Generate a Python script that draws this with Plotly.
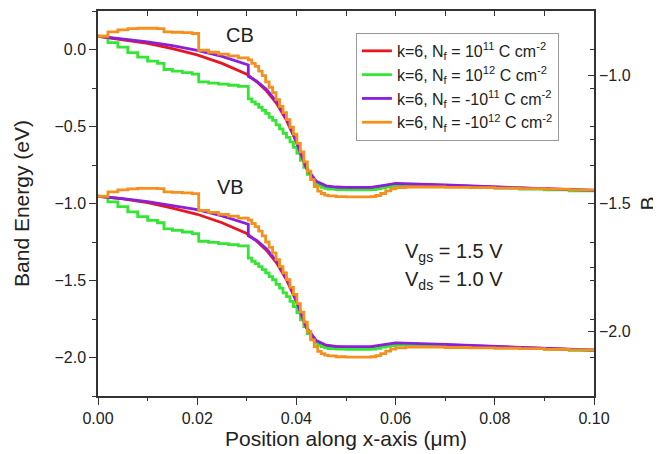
import plotly.graph_objects as go

# ---------------- data ----------------
# smooth series (red, purple) – position in µm, energy in eV
x_red = [0, 0.005, 0.01, 0.015, 0.02, 0.025, 0.03, 0.032, 0.034, 0.036, 0.038, 0.04,
         0.042, 0.044, 0.046, 0.048, 0.05, 0.055, 0.058, 0.06, 0.07, 0.08, 0.09, 0.1]
cb_red = [0.086, 0.065, 0.04, 0.005, -0.035, -0.09, -0.16, -0.21, -0.27, -0.35, -0.46, -0.60,
          -0.77, -0.86, -0.89, -0.897, -0.90, -0.90, -0.885, -0.875, -0.883, -0.893, -0.905, -0.915]
vb_red = [-0.953, -0.97, -0.995, -1.03, -1.07, -1.125, -1.195, -1.245, -1.305, -1.385, -1.495, -1.635,
          -1.805, -1.895, -1.925, -1.932, -1.935, -1.935, -1.92, -1.91, -1.918, -1.928, -1.94, -1.952]

x_purple = [0, 0.005, 0.01, 0.015, 0.02, 0.025, 0.0303, 0.0303, 0.032, 0.034, 0.036, 0.038, 0.04,
            0.042, 0.044, 0.046, 0.048, 0.05, 0.055, 0.058, 0.06, 0.07, 0.08, 0.09, 0.1]
cb_purple = [0.086, 0.07, 0.05, 0.025, -0.005, -0.045, -0.10, -0.175, -0.205, -0.26, -0.34, -0.45, -0.60,
             -0.77, -0.855, -0.885, -0.893, -0.895, -0.895, -0.88, -0.87, -0.88, -0.893, -0.905, -0.915]
vb_purple = [-0.953, -0.968, -0.988, -1.012, -1.04, -1.08, -1.135, -1.21, -1.24, -1.295, -1.375, -1.485, -1.635,
             -1.805, -1.89, -1.92, -1.928, -1.93, -1.93, -1.915, -1.905, -1.915, -1.928, -1.94, -1.952]

# staircase series (green, orange) sampled on the simulation mesh
x_mesh = [0, 0.002, 0.004, 0.006, 0.008, 0.010, 0.012, 0.0133, 0.015, 0.017, 0.019, 0.0203,
          0.0223, 0.0243, 0.0263, 0.0283, 0.0303,
          0.0310, 0.0317, 0.0324, 0.0331, 0.0338, 0.0345, 0.0352, 0.0359, 0.0366, 0.0373, 0.0380,
          0.0387, 0.0394, 0.0401, 0.0408, 0.0415, 0.0422, 0.0429, 0.0436, 0.0443, 0.0450, 0.0457, 0.0464,
          0.048, 0.050, 0.052, 0.054, 0.055, 0.056, 0.057, 0.058, 0.059, 0.060, 0.062, 0.065,
          0.070, 0.075, 0.080, 0.085, 0.090, 0.095, 0.100]
cb_green = [0.086, 0.045, 0.015, -0.02, -0.05, -0.075, -0.09, -0.13, -0.14, -0.15, -0.16, -0.21,
            -0.218, -0.225, -0.232, -0.24, -0.32,
            -0.34, -0.355, -0.375, -0.395, -0.415, -0.44, -0.46, -0.49, -0.515, -0.545, -0.57,
            -0.60, -0.635, -0.675, -0.72, -0.765, -0.81, -0.845, -0.87, -0.885, -0.895, -0.902, -0.907,
            -0.91, -0.912, -0.912, -0.912, -0.91, -0.905, -0.898, -0.892, -0.888, -0.885, -0.885, -0.886,
            -0.89, -0.895, -0.90, -0.906, -0.912, -0.918, -0.925]
vb_green = [-0.953, -0.99, -1.02, -1.055, -1.085, -1.11, -1.125, -1.165, -1.175, -1.185, -1.195, -1.245,
            -1.253, -1.26, -1.267, -1.275, -1.355,
            -1.375, -1.39, -1.41, -1.43, -1.45, -1.475, -1.495, -1.525, -1.55, -1.58, -1.605,
            -1.635, -1.67, -1.71, -1.755, -1.80, -1.845, -1.88, -1.905, -1.92, -1.93, -1.937, -1.942,
            -1.945, -1.947, -1.947, -1.947, -1.945, -1.94, -1.933, -1.927, -1.923, -1.92, -1.92, -1.921,
            -1.925, -1.93, -1.935, -1.941, -1.947, -1.953, -1.96]
cb_orange = [0.086, 0.115, 0.128, 0.135, 0.138, 0.138, 0.136, 0.115, 0.112, 0.109, 0.104, -0.005,
             -0.018, -0.03, -0.042, -0.055, -0.068,
             -0.09, -0.11, -0.14, -0.17, -0.21, -0.245, -0.28, -0.325, -0.37, -0.41, -0.455,
             -0.505, -0.55, -0.61, -0.665, -0.73, -0.79, -0.845, -0.89, -0.92, -0.935, -0.945, -0.95,
             -0.955, -0.957, -0.957, -0.957, -0.955, -0.948, -0.935, -0.918, -0.905, -0.897, -0.893, -0.893,
             -0.895, -0.897, -0.90, -0.903, -0.907, -0.911, -0.915]
vb_orange = [-0.954, -0.925, -0.912, -0.905, -0.902, -0.902, -0.904, -0.925, -0.928, -0.931, -0.936, -1.045,
             -1.058, -1.07, -1.082, -1.095, -1.108,
             -1.13, -1.15, -1.18, -1.21, -1.25, -1.285, -1.32, -1.365, -1.41, -1.45, -1.495,
             -1.545, -1.59, -1.65, -1.705, -1.77, -1.83, -1.885, -1.93, -1.96, -1.975, -1.985, -1.99,
             -1.995, -1.997, -1.997, -1.997, -1.995, -1.988, -1.975, -1.958, -1.945, -1.937, -1.933, -1.933,
             -1.935, -1.937, -1.94, -1.943, -1.947, -1.951, -1.955]

labels = ["k=6, N<sub>f</sub> = 10<sup>11</sup> C cm<sup>-2</sup>",
          "k=6, N<sub>f</sub> = 10<sup>12</sup> C cm<sup>-2</sup>",
          "k=6, N<sub>f</sub> = -10<sup>11</sup> C cm<sup>-2</sup>",
          "k=6, N<sub>f</sub> = -10<sup>12</sup> C cm<sup>-2</sup>"]
colors = ["#e8171e", "#33e633", "#8c1fd9", "#f5901e"]

x_ticks = [0, 0.02, 0.04, 0.06, 0.08, 0.10]
y_ticks = [0.0, -0.5, -1.0, -1.5, -2.0]
b_ticks = [-1.0, -1.5, -2.0]

# ---------------- figure ----------------
fig = go.Figure()
series = [
    (x_red, cb_red, vb_red, "linear"),
    (x_mesh, cb_green, vb_green, "hv"),
    (x_purple, cb_purple, vb_purple, "linear"),
    (x_mesh, cb_orange, vb_orange, "hv"),
]
for i, (xs, cb, vb, shape) in enumerate(series):
    fig.add_trace(go.Scatter(x=xs, y=cb, mode="lines", name=labels[i], legendgroup=str(i),
                             line=dict(color=colors[i], width=2.8, shape=shape)))
    fig.add_trace(go.Scatter(x=xs, y=vb, mode="lines", name=labels[i], legendgroup=str(i),
                             showlegend=False, line=dict(color=colors[i], width=2.8, shape=shape)))

# empty traces that anchor the right ("B") axis and the mirror axes
fig.add_trace(go.Scatter(x=[None], y=[None], xaxis="x", yaxis="y2", showlegend=False, hoverinfo="skip"))
fig.add_trace(go.Scatter(x=[None], y=[None], xaxis="x", yaxis="y3", showlegend=False, hoverinfo="skip"))
fig.add_trace(go.Scatter(x=[None], y=[None], xaxis="x2", yaxis="y", showlegend=False, hoverinfo="skip"))

axis_col = "#333333"
font_col = "#222222"
fam = "Liberation Sans, Arial, sans-serif"

# the page body adds an 8 px offset, so the figure is 8 px smaller than the window
fig.update_layout(
    width=653, height=446,
    margin=dict(l=90, r=67, t=3, b=58),
    paper_bgcolor="white", plot_bgcolor="white",
    font=dict(family=fam, size=16, color=font_col),
    xaxis=dict(range=[0, 0.1], tickvals=x_ticks, tickformat=".2f", ticks="outside", ticklen=7,
               tickwidth=1.3, tickcolor=axis_col, showline=True, linecolor=axis_col, linewidth=1.5,
               showgrid=False, zeroline=False, automargin=False,
               minor=dict(dtick=0.01, tick0=0, ticks="outside", ticklen=3.5, tickcolor=axis_col, tickwidth=1.3),
               tickfont=dict(size=16),
               title=dict(text="Position along x-axis (μm)", font=dict(size=21), standoff=2)),
    xaxis2=dict(overlaying="x", side="top", range=[0, 0.1], dtick=0.01, tick0=0, ticks="inside",
                ticklen=5, tickwidth=1.3, tickcolor=axis_col, showticklabels=False, automargin=False,
                showline=True, linecolor=axis_col, linewidth=1.5, showgrid=False, zeroline=False),
    yaxis=dict(range=[-2.25, 0.25], tickvals=y_ticks, tickformat=".1f", ticks="outside", ticklen=7,
               tickwidth=1.3, tickcolor=axis_col, showline=True, linecolor=axis_col, linewidth=1.5,
               showgrid=False, zeroline=False, automargin=False,
               minor=dict(dtick=0.25, tick0=0, ticks="outside", ticklen=4, tickcolor=axis_col, tickwidth=1.3),
               tickfont=dict(size=16),
               title=dict(text="Band Energy (eV)", font=dict(size=21), standoff=19)),
    yaxis2=dict(overlaying="y", side="right", range=[-2.25, -0.75], tickvals=b_ticks, tickformat=".1f",
                ticks="inside", ticklen=6, tickwidth=1.3, tickcolor=axis_col, automargin=False,
                minor=dict(dtick=0.25, tick0=-1.0, ticks="inside", ticklen=4, tickcolor=axis_col, tickwidth=1.3),
                showline=True, linecolor=axis_col, linewidth=1.5, showgrid=False, zeroline=False,
                tickfont=dict(size=16),
                title=dict(text="B", font=dict(size=21), standoff=11)),
    yaxis3=dict(overlaying="y", side="right", range=[-2.25, 0.25], dtick=0.25, tick0=0, automargin=False,
                ticks="inside", ticklen=4, tickwidth=1.3, tickcolor=axis_col, showticklabels=False,
                showline=False, showgrid=False, zeroline=False),
    legend=dict(x=0.52, y=0.943, xanchor="left", yanchor="top", bgcolor="rgba(255,255,255,0)",
                bordercolor="#999999", borderwidth=1, font=dict(size=16), tracegroupgap=0,
                itemwidth=30),
    showlegend=True,
)

ann_font = dict(family=fam, size=20, color=font_col)
fig.add_annotation(x=0.0286, y=0.093, xref="x", yref="y", text="CB", showarrow=False, font=ann_font)
fig.add_annotation(x=0.0268, y=-0.894, xref="x", yref="y", text="VB", showarrow=False, font=ann_font)
fig.add_annotation(x=0.0718, y=-1.316, xref="x", yref="y", text="V<sub>gs</sub> = 1.5 V",
                   showarrow=False, font=ann_font)
fig.add_annotation(x=0.0718, y=-1.50, xref="x", yref="y", text="V<sub>ds</sub> = 1.0 V",
                   showarrow=False, font=ann_font)

fig.write_html("out.html")
